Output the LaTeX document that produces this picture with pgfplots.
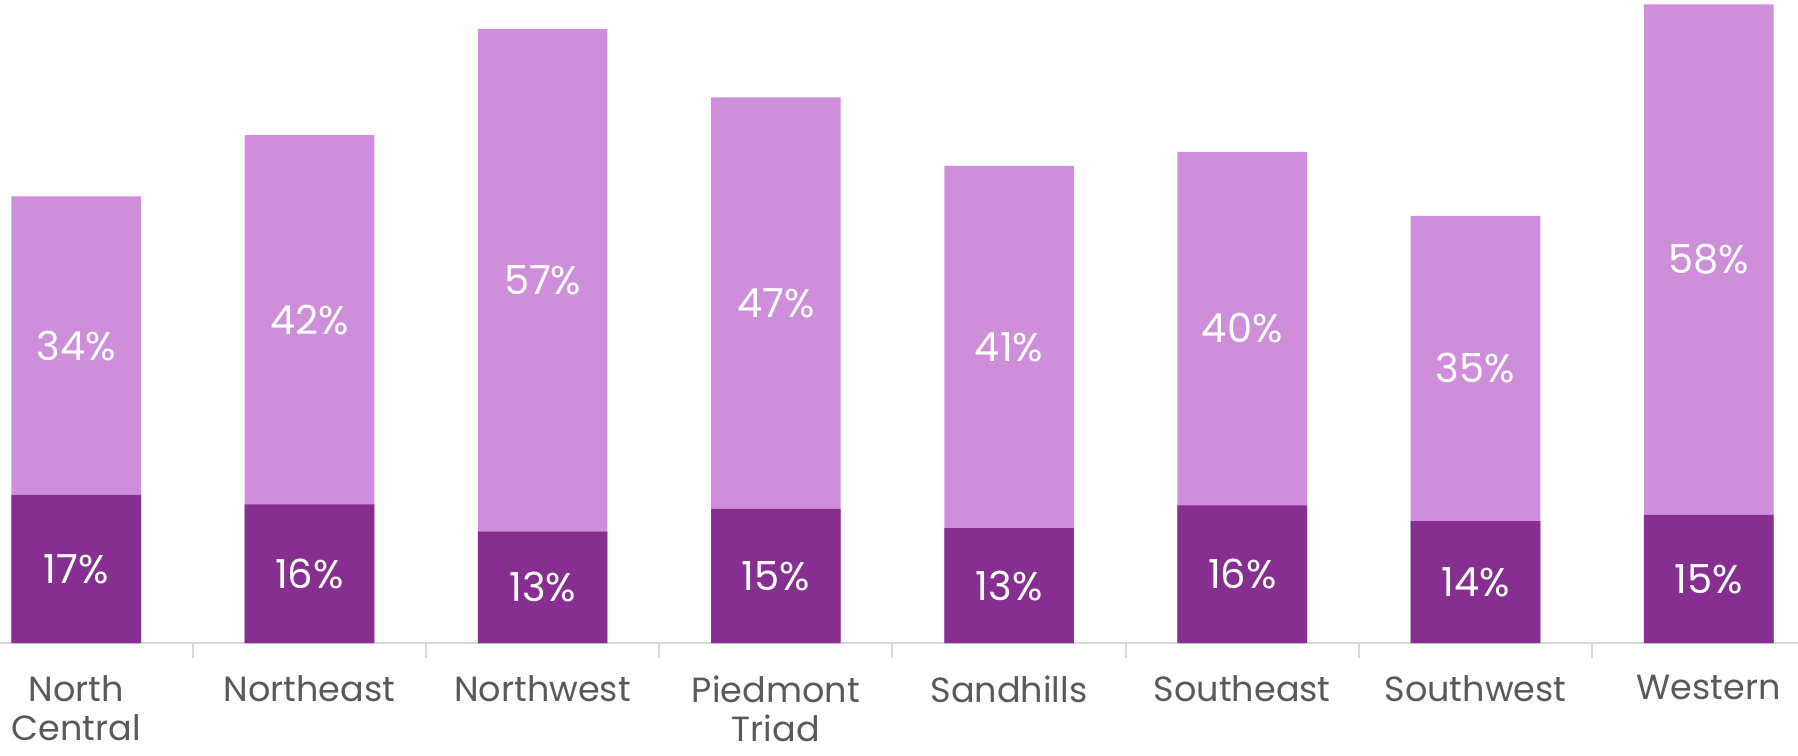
\documentclass[border=0pt]{standalone}
\usepackage{pgfplots}
\usepackage{pgfplotstable}
\pgfplotsset{compat=1.18}
\usepackage{fontspec}
\setmainfont{Poppins}
\definecolor{darkc}{HTML}{862F91}
\definecolor{lightc}{HTML}{CE8ED9}
\definecolor{txtc}{HTML}{595959}
\definecolor{axc}{HTML}{D9D9D9}
\pgfplotstableread{
x dark light
0 16.9 34.0
1 15.8 42.1
2 12.7 57.3
3 15.3 46.9
4 13.1 41.3
5 15.7 40.3
6 13.9 34.8
7 14.6 58.2
}\data
\begin{document}
\begin{tikzpicture}
\begin{axis}[
  scale only axis,
  width=1798pt, height=643pt,
  xmin=-0.327, xmax=7.383,
  ymin=0, ymax=73.3,
  axis y line=none,
  axis x line*=bottom,
  x axis line style={draw=axc, line width=2pt, -},
  xtick={0,...,7},
  xticklabels={{North\\Central},Northeast,Northwest,{Piedmont\\Triad},Sandhills,Southeast,Southwest,Western},
  minor xtick={0.5,1.5,...,6.5},
  major tick length=0pt,
  minor tick length=15pt,
  tick align=outside,
  minor tick style={draw=axc, line width=2pt},
  xticklabel style={font=\fontsize{35}{39}\selectfont, text=txtc, align=center, anchor=north, yshift=-29pt},
  clip=false,
  nodes near coords style={font=\fontsize{40}{44}\selectfont, text=white, anchor=center, /pgf/number format/assume math mode=true},
]
\addplot[ybar, bar width=129.6pt, bar shift=0pt, fill=lightc, draw=none] table[x=x, y expr=\thisrow{dark}+\thisrow{light}] {\data};
\addplot[ybar, bar width=129.6pt, bar shift=0pt, fill=darkc, draw=none] table[x=x, y=dark] {\data};
\addplot[draw=none, mark=none, nodes near coords={\pgfmathprintnumber[fixed,precision=0]{\pgfplotspointmeta}\%}, point meta=explicit] table[x=x, y expr=\thisrow{dark}/2, meta=dark] {\data};
\addplot[draw=none, mark=none, nodes near coords={\pgfmathprintnumber[fixed,precision=0]{\pgfplotspointmeta}\%}, point meta=explicit] table[x=x, y expr=\thisrow{dark}+\thisrow{light}/2, meta=light] {\data};
\coordinate (bl) at (rel axis cs:0,0);
\coordinate (tr) at (rel axis cs:1,1);
\end{axis}
\pgfresetboundingbox
\path (bl) ++(0,-112pt) rectangle (tr);
\end{tikzpicture}
\end{document}
